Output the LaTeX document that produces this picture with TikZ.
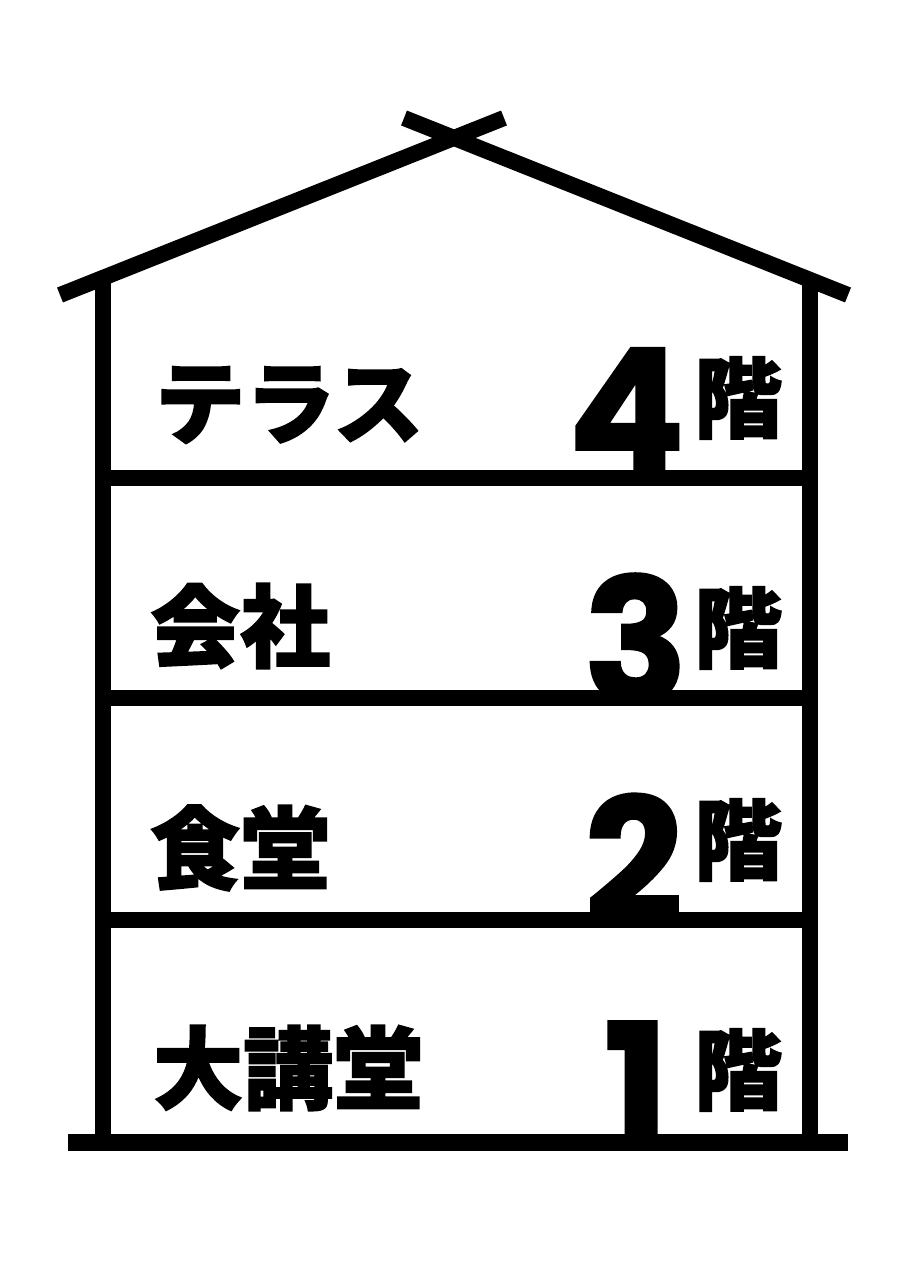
\documentclass[tikz,border=0pt]{standalone}
\usepackage{fontspec}
\newfontfamily\cjk{Noto Sans CJK JP}[BoldFeatures={FakeBold=1.8}]
\newfontfamily\pop{Poppins}[BoldFeatures={FakeBold=1.5}]
\begin{document}
\begin{tikzpicture}[x=1pt,y=-1pt,
  wall/.style={line width=16pt,line cap=butt,draw=black},
  label/.style={inner sep=0pt,anchor=west,font=\cjk\bfseries\fontsize{90}{90}\selectfont},
  kai/.style={inner sep=0pt,anchor=west,font=\cjk\bfseries\fontsize{88}{88}\selectfont},
  num/.style={inner sep=0pt,anchor=base east,font=\pop\bfseries\fontsize{172}{172}\selectfont}]
\useasboundingbox (0,0) rectangle (905,1280);
% roof
\coordinate (rl) at (60,295);
\coordinate (rr) at (848,295);
\coordinate (sl) at (404,118);
\coordinate (sr) at (504,118);
\draw[wall] (rl) -- (sr);
\draw[wall] (rr) -- (sl);
% walls
\coordinate (wlt) at (103,276);
\coordinate (wlb) at (103,1142);
\coordinate (wrt) at (810,278);
\coordinate (wrb) at (810,1142);
\draw[wall] (wlt) -- (wlb);
\draw[wall] (wrt) -- (wrb);
% floors
\coordinate (f4l) at (103,478); \coordinate (f4r) at (810,478);
\coordinate (f3l) at (103,698); \coordinate (f3r) at (810,698);
\coordinate (f2l) at (103,920); \coordinate (f2r) at (810,920);
\draw[wall] (f4l) -- (f4r);
\draw[wall] (f3l) -- (f3r);
\draw[wall] (f2l) -- (f2r);
\coordinate (gl) at (68,1142); \coordinate (gr) at (848,1142);
\draw[wall,line width=17pt] (gl) -- (gr);
% labels
\node[label] (t4) at (155,405) {テラス};
\node[label] (t3) at (150,626) {会社};
\node[label] (t2) at (150,848) {食堂};
\node[label] (t1) at (153,1068) {大講堂};
\node[num] (n4) at (685,472) {4};
\node[num] (n3) at (688,702) {3};
\node[num] (n2) at (683,922) {2};
\node[num] (n1) at (669,1147) {1};
\node[kai] (k4) at (694,398) {階};
\node[kai] (k3) at (694,628) {階};
\node[kai] (k2) at (694,840) {階};
\node[kai] (k1) at (694,1070) {階};
\end{tikzpicture}
\end{document}
